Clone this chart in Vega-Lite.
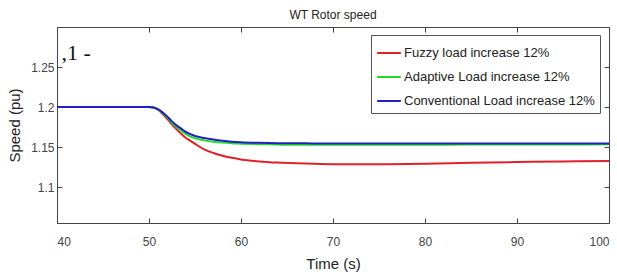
{
  "$schema": "https://vega.github.io/schema/vega-lite/v6.json",
  "autosize": {"type": "none"},
  "width": 552,
  "height": 196,
  "padding": {"left": 57, "top": 27, "right": 8, "bottom": 49},
  "background": "white",
  "config": {
    "font": "Liberation Sans",
    "view": {"stroke": "#444", "strokeWidth": 1},
    "axis": {"grid": false, "domainColor": "#444", "tickColor": "#444", "labelColor": "#444", "labelFontSize": 12, "titleFontSize": 15, "titleFontWeight": "normal", "titleColor": "#222"}
  },
  "title": {"text": "WT Rotor speed", "fontSize": 12, "fontWeight": "normal", "color": "#222", "anchor": "middle", "offset": 5},
  "datasets": {
    "speed": [
      {"t": 40, "s": "Fuzzy load increase 12%", "v": 1.2},
      {"t": 50, "s": "Fuzzy load increase 12%", "v": 1.2},
      {"t": 50.5, "s": "Fuzzy load increase 12%", "v": 1.1995},
      {"t": 51, "s": "Fuzzy load increase 12%", "v": 1.1965},
      {"t": 51.5, "s": "Fuzzy load increase 12%", "v": 1.191},
      {"t": 52, "s": "Fuzzy load increase 12%", "v": 1.185},
      {"t": 52.5, "s": "Fuzzy load increase 12%", "v": 1.178},
      {"t": 53, "s": "Fuzzy load increase 12%", "v": 1.172},
      {"t": 53.5, "s": "Fuzzy load increase 12%", "v": 1.1665},
      {"t": 54, "s": "Fuzzy load increase 12%", "v": 1.1615},
      {"t": 54.5, "s": "Fuzzy load increase 12%", "v": 1.1577},
      {"t": 55, "s": "Fuzzy load increase 12%", "v": 1.154},
      {"t": 56, "s": "Fuzzy load increase 12%", "v": 1.147},
      {"t": 57, "s": "Fuzzy load increase 12%", "v": 1.1425},
      {"t": 58, "s": "Fuzzy load increase 12%", "v": 1.139},
      {"t": 59, "s": "Fuzzy load increase 12%", "v": 1.1365},
      {"t": 60, "s": "Fuzzy load increase 12%", "v": 1.1345},
      {"t": 62, "s": "Fuzzy load increase 12%", "v": 1.132},
      {"t": 64, "s": "Fuzzy load increase 12%", "v": 1.1305},
      {"t": 66, "s": "Fuzzy load increase 12%", "v": 1.1296},
      {"t": 68, "s": "Fuzzy load increase 12%", "v": 1.129},
      {"t": 70, "s": "Fuzzy load increase 12%", "v": 1.1285},
      {"t": 72, "s": "Fuzzy load increase 12%", "v": 1.1283},
      {"t": 76, "s": "Fuzzy load increase 12%", "v": 1.1285},
      {"t": 80, "s": "Fuzzy load increase 12%", "v": 1.1292},
      {"t": 85, "s": "Fuzzy load increase 12%", "v": 1.1302},
      {"t": 90, "s": "Fuzzy load increase 12%", "v": 1.1312},
      {"t": 95, "s": "Fuzzy load increase 12%", "v": 1.132},
      {"t": 100, "s": "Fuzzy load increase 12%", "v": 1.1325},

      {"t": 40, "s": "Adaptive Load increase 12%", "v": 1.2},
      {"t": 50, "s": "Adaptive Load increase 12%", "v": 1.2},
      {"t": 50.5, "s": "Adaptive Load increase 12%", "v": 1.1995},
      {"t": 51, "s": "Adaptive Load increase 12%", "v": 1.197},
      {"t": 51.5, "s": "Adaptive Load increase 12%", "v": 1.192},
      {"t": 52, "s": "Adaptive Load increase 12%", "v": 1.187},
      {"t": 52.5, "s": "Adaptive Load increase 12%", "v": 1.18},
      {"t": 53, "s": "Adaptive Load increase 12%", "v": 1.175},
      {"t": 53.5, "s": "Adaptive Load increase 12%", "v": 1.1705},
      {"t": 54, "s": "Adaptive Load increase 12%", "v": 1.1665},
      {"t": 54.5, "s": "Adaptive Load increase 12%", "v": 1.163},
      {"t": 55, "s": "Adaptive Load increase 12%", "v": 1.1608},
      {"t": 56, "s": "Adaptive Load increase 12%", "v": 1.1583},
      {"t": 57, "s": "Adaptive Load increase 12%", "v": 1.1566},
      {"t": 58, "s": "Adaptive Load increase 12%", "v": 1.1555},
      {"t": 59, "s": "Adaptive Load increase 12%", "v": 1.1547},
      {"t": 60, "s": "Adaptive Load increase 12%", "v": 1.1542},
      {"t": 62, "s": "Adaptive Load increase 12%", "v": 1.1535},
      {"t": 64, "s": "Adaptive Load increase 12%", "v": 1.153},
      {"t": 66, "s": "Adaptive Load increase 12%", "v": 1.1528},
      {"t": 68, "s": "Adaptive Load increase 12%", "v": 1.1527},
      {"t": 70, "s": "Adaptive Load increase 12%", "v": 1.1527},
      {"t": 72, "s": "Adaptive Load increase 12%", "v": 1.1527},
      {"t": 76, "s": "Adaptive Load increase 12%", "v": 1.1528},
      {"t": 80, "s": "Adaptive Load increase 12%", "v": 1.1529},
      {"t": 85, "s": "Adaptive Load increase 12%", "v": 1.153},
      {"t": 90, "s": "Adaptive Load increase 12%", "v": 1.1531},
      {"t": 95, "s": "Adaptive Load increase 12%", "v": 1.1532},
      {"t": 100, "s": "Adaptive Load increase 12%", "v": 1.1533},

      {"t": 40, "s": "Conventional Load increase 12%", "v": 1.2},
      {"t": 50, "s": "Conventional Load increase 12%", "v": 1.2},
      {"t": 50.5, "s": "Conventional Load increase 12%", "v": 1.1995},
      {"t": 51, "s": "Conventional Load increase 12%", "v": 1.197},
      {"t": 51.5, "s": "Conventional Load increase 12%", "v": 1.193},
      {"t": 52, "s": "Conventional Load increase 12%", "v": 1.188},
      {"t": 52.5, "s": "Conventional Load increase 12%", "v": 1.182},
      {"t": 53, "s": "Conventional Load increase 12%", "v": 1.177},
      {"t": 53.5, "s": "Conventional Load increase 12%", "v": 1.173},
      {"t": 54, "s": "Conventional Load increase 12%", "v": 1.169},
      {"t": 54.5, "s": "Conventional Load increase 12%", "v": 1.166},
      {"t": 55, "s": "Conventional Load increase 12%", "v": 1.1638},
      {"t": 56, "s": "Conventional Load increase 12%", "v": 1.1612},
      {"t": 57, "s": "Conventional Load increase 12%", "v": 1.1593},
      {"t": 58, "s": "Conventional Load increase 12%", "v": 1.1578},
      {"t": 59, "s": "Conventional Load increase 12%", "v": 1.1567},
      {"t": 60, "s": "Conventional Load increase 12%", "v": 1.156},
      {"t": 62, "s": "Conventional Load increase 12%", "v": 1.1552},
      {"t": 64, "s": "Conventional Load increase 12%", "v": 1.1548},
      {"t": 66, "s": "Conventional Load increase 12%", "v": 1.1546},
      {"t": 68, "s": "Conventional Load increase 12%", "v": 1.1545},
      {"t": 70, "s": "Conventional Load increase 12%", "v": 1.1544},
      {"t": 72, "s": "Conventional Load increase 12%", "v": 1.1544},
      {"t": 76, "s": "Conventional Load increase 12%", "v": 1.1544},
      {"t": 80, "s": "Conventional Load increase 12%", "v": 1.1544},
      {"t": 85, "s": "Conventional Load increase 12%", "v": 1.1544},
      {"t": 90, "s": "Conventional Load increase 12%", "v": 1.1544},
      {"t": 95, "s": "Conventional Load increase 12%", "v": 1.1544},
      {"t": 100, "s": "Conventional Load increase 12%", "v": 1.1544}
    ],
    "note": [{"t": 40.5, "v": 1.267, "label": ",1 -"}]
  },
  "layer": [
    {
      "data": {"name": "speed"},
      "mark": {"type": "line", "strokeWidth": 2, "interpolate": "monotone", "clip": true},
      "encoding": {
        "x": {"field": "t", "type": "quantitative",
              "scale": {"domain": [40, 100], "nice": false},
              "axis": {"orient": "bottom", "values": [40, 50, 60, 70, 80, 90, 100], "tickSize": -5, "labelPadding": 18, "title": "Time (s)", "titlePadding": 9}},
        "y": {"field": "v", "type": "quantitative",
              "scale": {"domain": [1.055, 1.3], "nice": false, "zero": false},
              "axis": {"orient": "left", "values": [1.1, 1.15, 1.2, 1.25], "format": ".3~f", "tickSize": -5, "labelPadding": 8, "title": "Speed (pu)", "titlePadding": 8}},
        "color": {"field": "s", "type": "nominal",
                  "scale": {"domain": ["Fuzzy load increase 12%", "Adaptive Load increase 12%", "Conventional Load increase 12%"],
                            "range": ["#e0202a", "#22dd22", "#2020c0"]},
                  "legend": {"title": null, "orient": "none", "legendX": 314, "legendY": 8,
                             "symbolType": "stroke", "symbolSize": 560, "symbolStrokeWidth": 2,
                             "labelFontSize": 13, "labelColor": "#222", "labelLimit": 400, "rowPadding": 4,
                             "strokeColor": "#555", "fillColor": "white", "padding": 5, "labelOffset": 2}}
      }
    },
    {
      "data": {"name": "note"},
      "mark": {"type": "text", "font": "Liberation Serif", "fontSize": 22, "align": "left", "baseline": "middle", "color": "#111"},
      "encoding": {
        "x": {"field": "t", "type": "quantitative",
              "axis": {"orient": "top", "values": [40, 50, 60, 70, 80, 90, 100], "tickSize": -5, "labels": false, "domain": false, "title": null}},
        "y": {"field": "v", "type": "quantitative",
              "axis": {"orient": "right", "values": [1.1, 1.15, 1.2, 1.25], "tickSize": -5, "labels": false, "domain": false, "title": null}},
        "text": {"field": "label"}
      }
    }
  ],
  "resolve": {"axis": {"x": "independent", "y": "independent"}}
}
